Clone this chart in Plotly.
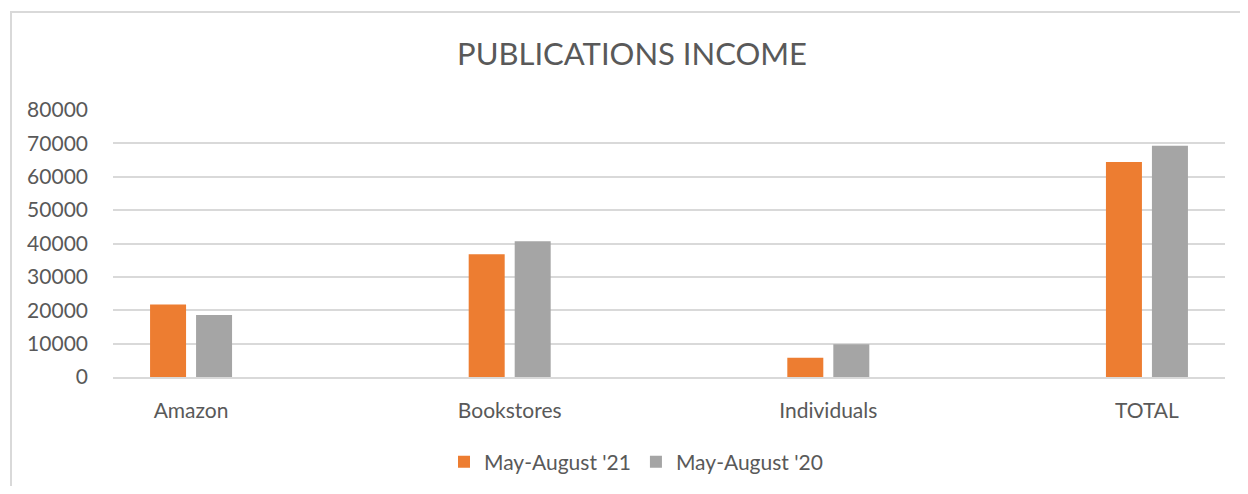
import plotly.graph_objects as go

categories = ["Amazon", "Bookstores", "Individuals", "TOTAL"]
income_21 = [21700, 36800, 5800, 64400]
income_20 = [18600, 40700, 9800, 69300]

FONT = "Lato, Open Sans, sans-serif"
GREY_TXT = "#595959"

# page has an 8px body margin, so figure px = page px - 8
OFF = 8
W, H = 1232, 478
# plot area in page pixels of the reference
PL, PR, PT, PB = 113, 1225, 110, 377
L, R, T, B = PL - OFF, W - (PR - OFF), PT - OFF, H - (PB - OFF)
pw, ph = W - L - R, H - T - B
XR = [-0.245, 3.245]
unit = pw / (XR[1] - XR[0])  # px per category


def page_to_paper(x, y):
    return (x - OFF - L) / pw, (H - B - (y - OFF)) / ph


bar_w = 36 / unit
fig = go.Figure()
fig.add_trace(go.Bar(x=categories, y=income_21, name="May-August '21",
                     width=bar_w, offset=-41 / unit,
                     marker=dict(color="#ED7D31", line=dict(width=0))))
fig.add_trace(go.Bar(x=categories, y=income_20, name="May-August '20",
                     width=bar_w, offset=5 / unit,
                     marker=dict(color="#A5A5A5", line=dict(width=0))))

# outer chart border (runs off right and bottom like the reference)
bx0, by0 = page_to_paper(11, 12)
bx1, by1 = page_to_paper(1260, 520)
fig.add_shape(type="rect", xref="paper", yref="paper", x0=bx0, y0=by1, x1=bx1, y1=by0,
              line=dict(color="#D9D9D9", width=2), layer="below")

fig.update_layout(
    template="none",
    width=W, height=H,
    margin=dict(l=L, r=R, t=T, b=B, autoexpand=False),
    paper_bgcolor="white", plot_bgcolor="white",
    font=dict(family=FONT, color=GREY_TXT, size=21),
    title=dict(text="PUBLICATIONS INCOME", x=page_to_paper(632, 0)[0], xref="paper",
               xanchor="center", y=1 - (54 - OFF) / H, yanchor="middle",
               font=dict(size=31, color=GREY_TXT, family=FONT)),
    barmode="group",
    legend=dict(orientation="h", x=page_to_paper(636, 0)[0], xanchor="center",
                y=page_to_paper(0, 462)[1], yanchor="middle",
                font=dict(size=21, color=GREY_TXT), traceorder="normal",
                bgcolor="rgba(0,0,0,0)"),
    xaxis=dict(range=XR, showgrid=False, showline=True, automargin=False,
               linecolor="#D9D9D9", linewidth=2, ticks="", ticklabelstandoff=14,
               tickfont=dict(size=21, color=GREY_TXT)),
    yaxis=dict(range=[0, 80000], dtick=10000, showgrid=True, gridcolor="#D9D9D9",
               gridwidth=2, zeroline=False, showline=False, ticks="", automargin=False,
               tickformat="d", ticklabelstandoff=24,
               tickfont=dict(size=21, color=GREY_TXT)),
)

fig.write_html("out.html")
